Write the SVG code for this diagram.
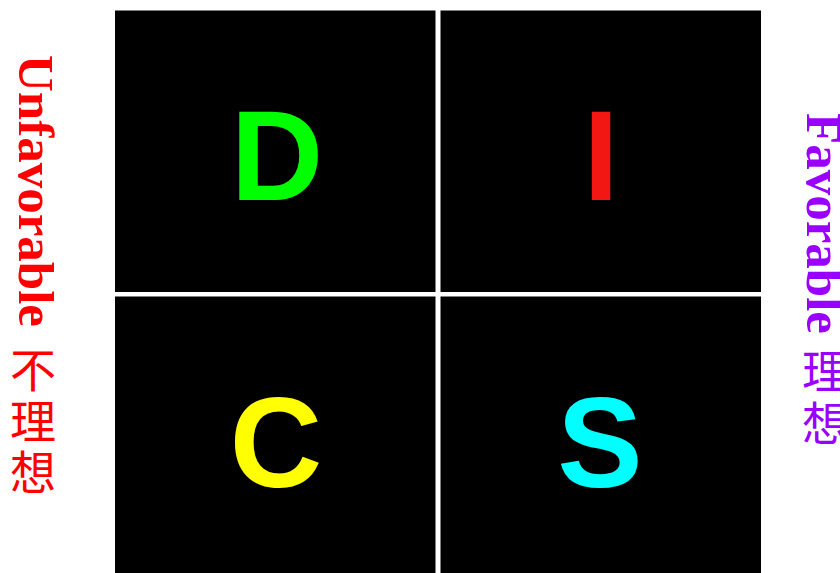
<svg xmlns="http://www.w3.org/2000/svg" width="840" height="573" viewBox="0 0 840 573">
<style>
.q{fill:#000000}
.big{font-family:"Liberation Sans",Arial,sans-serif;font-weight:bold;font-size:128px;text-anchor:middle}
.lat{font-family:"Liberation Serif","Times New Roman",serif;font-weight:bold;font-size:51px}
.cjk{font-family:"Noto Sans CJK SC","Noto Sans CJK TC",sans-serif;font-size:46px;text-anchor:middle}
.red{fill:#FF0000}
.pur{fill:#9900FF}
</style>
<rect width="840" height="573" fill="#FFFFFF"/>
<g id="quad-D">
<rect class="q" x="115" y="10.5" width="320.5" height="281.5"/>
<text class="big" x="277" y="200" fill="#00FF00">D</text>
</g>
<g id="quad-I">
<rect class="q" x="440.5" y="10.5" width="320.5" height="281.5"/>
<text class="big" x="601" y="200" fill="#F21712">I</text>
</g>
<g id="quad-C">
<rect class="q" x="115" y="296.5" width="320.5" height="276.5"/>
<text class="big" x="276" y="487" fill="#FFFF00">C</text>
</g>
<g id="quad-S">
<rect class="q" x="440.5" y="296.5" width="320.5" height="276.5"/>
<text class="big" x="600" y="487" fill="#00FFFF">S</text>
</g>
<g id="label-unfavorable" class="red">
<text class="lat" transform="translate(19,55) rotate(90)">Unfavorable</text>
<text class="cjk" x="33" y="387">不</text>
<text class="cjk" x="33" y="438">理</text>
<text class="cjk" x="33" y="489">想</text>
</g>
<g id="label-favorable" class="pur">
<text class="lat" transform="translate(807,113) rotate(90)">Favorable</text>
<text class="cjk" x="825" y="388">理</text>
<text class="cjk" x="825" y="440">想</text>
</g>
</svg>
